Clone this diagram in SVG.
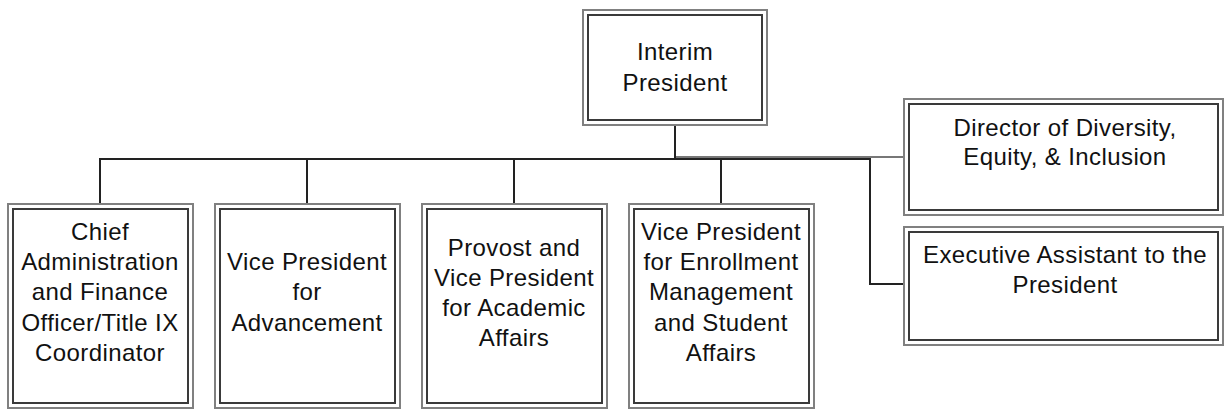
<svg xmlns="http://www.w3.org/2000/svg" width="1230" height="410" viewBox="0 0 1230 410">
<style>
.o{fill:#fff;stroke:#808080;stroke-width:2}
.i{fill:none;stroke:#3a3a3a;stroke-width:2}
.t{font-family:"Liberation Sans",Arial,sans-serif;font-size:24px;fill:#111;text-anchor:middle;letter-spacing:0.4px}
.c{fill:none;stroke:#222;stroke-width:2}
.g{fill:none;stroke:#777;stroke-width:2}
</style>
<rect width="1230" height="410" fill="#fff"/>
<g id="connectors">
<path class="g" d="M675,125 V157 H904"/>
<path class="c" d="M675,125 V159"/>
<path class="c" d="M100,204 V159 H870 V284 H904"/>
<path class="c" d="M307,159 V204"/>
<path class="c" d="M514,159 V204"/>
<path class="c" d="M721,159 V204"/>
</g>
<g id="president">
<rect class="o" x="583" y="10" width="184" height="115"/>
<rect class="i" x="588" y="15" width="174" height="105"/>
<text class="t" x="675" y="60">Interim</text>
<text class="t" x="675" y="91">President</text>
</g>
<g id="cafo">
<rect class="o" x="8" y="204" width="185" height="204"/>
<rect class="i" x="13" y="209" width="175" height="194"/>
<text class="t" x="100" y="240">Chief</text>
<text class="t" x="100" y="270">Administration</text>
<text class="t" x="100" y="300">and Finance</text>
<text class="t" x="100" y="331">Officer/Title IX</text>
<text class="t" x="100" y="361">Coordinator</text>
</g>
<g id="vp-advancement">
<rect class="o" x="215" y="204" width="185" height="204"/>
<rect class="i" x="220" y="209" width="175" height="194"/>
<text class="t" x="307" y="270">Vice President</text>
<text class="t" x="307" y="300">for</text>
<text class="t" x="307" y="331">Advancement</text>
</g>
<g id="provost">
<rect class="o" x="422" y="204" width="185" height="204"/>
<rect class="i" x="427" y="209" width="175" height="194"/>
<text class="t" x="514" y="256">Provost and</text>
<text class="t" x="514" y="286">Vice President</text>
<text class="t" x="514" y="316">for Academic</text>
<text class="t" x="514" y="346">Affairs</text>
</g>
<g id="vp-enrollment">
<rect class="o" x="629" y="204" width="185" height="204"/>
<rect class="i" x="634" y="209" width="175" height="194"/>
<text class="t" x="721" y="240">Vice President</text>
<text class="t" x="721" y="270">for Enrollment</text>
<text class="t" x="721" y="300">Management</text>
<text class="t" x="721" y="331">and Student</text>
<text class="t" x="721" y="361">Affairs</text>
</g>
<g id="director-dei">
<rect class="o" x="904" y="99" width="319" height="116"/>
<rect class="i" x="909" y="104" width="309" height="106"/>
<text class="t" x="1065" y="136">Director of Diversity,</text>
<text class="t" x="1065" y="165">Equity, &amp; Inclusion</text>
</g>
<g id="exec-assistant">
<rect class="o" x="904" y="227" width="319" height="118"/>
<rect class="i" x="909" y="232" width="309" height="108"/>
<text class="t" x="1065" y="263">Executive Assistant to the</text>
<text class="t" x="1065" y="293">President</text>
</g>
</svg>
